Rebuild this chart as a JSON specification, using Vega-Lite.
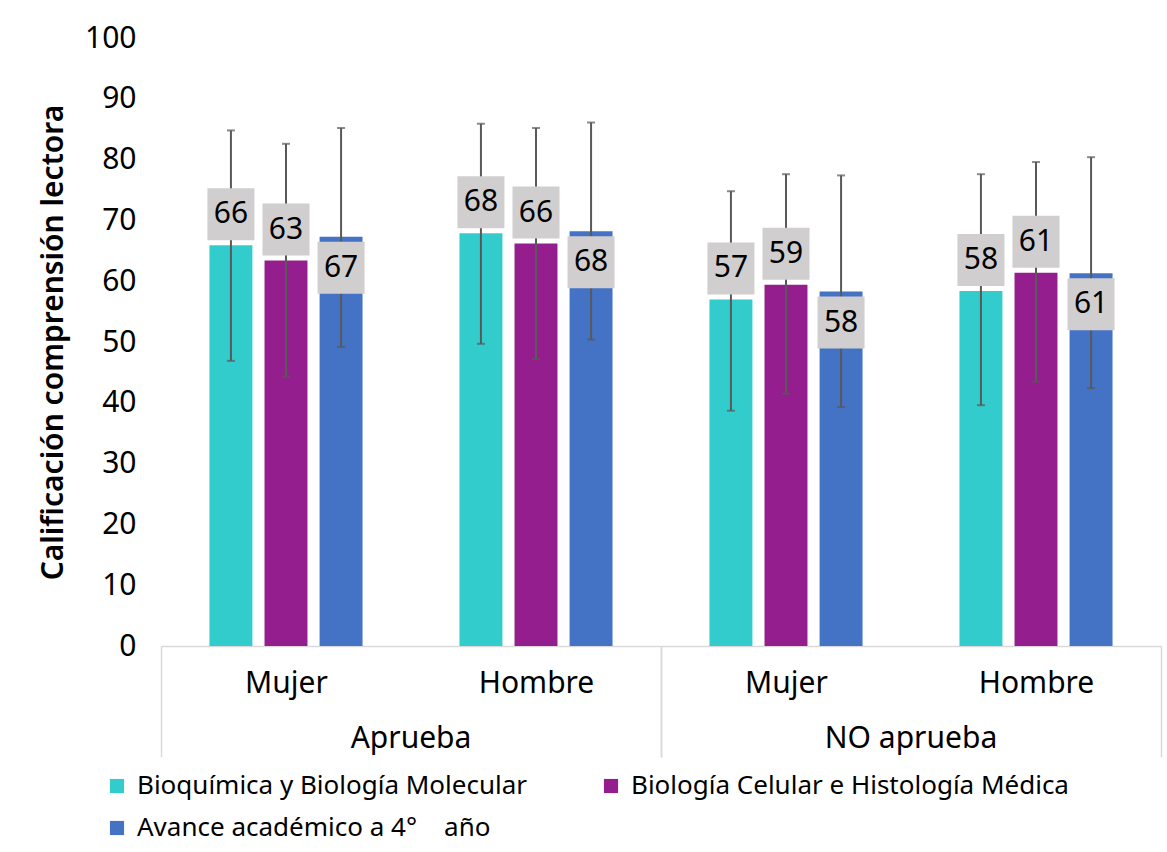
{
  "$schema": "https://vega.github.io/schema/vega-lite/v6.json",
  "background": "white",
  "autosize": {"type": "pad"},
  "padding": {"left": 38, "top": 23, "right": 5, "bottom": 5},
  "data": {
    "values": [
      {"grupo": "Aprueba", "sexo": "Mujer", "serie": "Bioquímica y Biología Molecular", "media": 65.9, "inferior": 46.9, "superior": 84.8},
      {"grupo": "Aprueba", "sexo": "Mujer", "serie": "Biología Celular e Histología Médica", "media": 63.4, "inferior": 44.3, "superior": 82.6},
      {"grupo": "Aprueba", "sexo": "Mujer", "serie": "Avance académico a 4°\u00a0\u00a0\u00a0\u00a0año", "media": 67.3, "inferior": 49.2, "superior": 85.2},
      {"grupo": "Aprueba", "sexo": "Hombre", "serie": "Bioquímica y Biología Molecular", "media": 67.9, "inferior": 49.7, "superior": 85.9},
      {"grupo": "Aprueba", "sexo": "Hombre", "serie": "Biología Celular e Histología Médica", "media": 66.2, "inferior": 47.2, "superior": 85.2},
      {"grupo": "Aprueba", "sexo": "Hombre", "serie": "Avance académico a 4°\u00a0\u00a0\u00a0\u00a0año", "media": 68.2, "inferior": 50.4, "superior": 86.1},
      {"grupo": "NO aprueba", "sexo": "Mujer", "serie": "Bioquímica y Biología Molecular", "media": 57.0, "inferior": 38.7, "superior": 74.8},
      {"grupo": "NO aprueba", "sexo": "Mujer", "serie": "Biología Celular e Histología Médica", "media": 59.4, "inferior": 41.5, "superior": 77.6},
      {"grupo": "NO aprueba", "sexo": "Mujer", "serie": "Avance académico a 4°\u00a0\u00a0\u00a0\u00a0año", "media": 58.3, "inferior": 39.3, "superior": 77.4},
      {"grupo": "NO aprueba", "sexo": "Hombre", "serie": "Bioquímica y Biología Molecular", "media": 58.4, "inferior": 39.6, "superior": 77.6},
      {"grupo": "NO aprueba", "sexo": "Hombre", "serie": "Biología Celular e Histología Médica", "media": 61.4, "inferior": 43.5, "superior": 79.6},
      {"grupo": "NO aprueba", "sexo": "Hombre", "serie": "Avance académico a 4°\u00a0\u00a0\u00a0\u00a0año", "media": 61.3, "inferior": 42.4, "superior": 80.4}
    ]
  },
  "facet": {
    "column": {
      "field": "grupo", "type": "nominal", "sort": ["Aprueba", "NO aprueba"],
      "header": {"title": null, "labelOrient": "bottom", "labelFontSize": 30, "labelFont": "Noto Sans", "labelColor": "#000000", "labelPadding": -34}
    }
  },
  "spacing": 0,
  "spec": {
    "width": 500,
    "height": 608,
    "encoding": {
      "x": {
        "field": "sexo", "type": "nominal", "sort": ["Mujer", "Hombre"],
        "scale": {"paddingInner": 0, "paddingOuter": 0},
        "axis": {
          "title": null, "labelAngle": 0, "labelFontSize": 30, "labelFont": "Noto Sans", "labelColor": "#000000",
          "domainColor": "#d9d9d9", "domainWidth": 1.5,
          "tickBand": "extent", "tickSize": 111, "tickColor": "#d9d9d9", "tickWidth": 1.5,
          "tickOpacity": {"condition": {"test": "datum.value === 'Mujer'", "value": 0}, "value": 1},
          "labelPadding": -89
        }
      },
      "xOffset": {
        "field": "serie", "type": "nominal",
        "sort": ["Bioquímica y Biología Molecular", "Biología Celular e Histología Médica", "Avance académico a 4°\u00a0\u00a0\u00a0\u00a0año"],
        "scale": {"paddingInner": 0.22, "paddingOuter": 0.88}
      }
    },
    "layer": [
      {
        "mark": {"type": "bar"},
        "encoding": {
          "y": {
            "field": "media", "type": "quantitative",
            "scale": {"domain": [0, 100]},
            "axis": {
              "title": "Calificación comprensión lectora", "values": [0, 10, 20, 30, 40, 50, 60, 70, 80, 90, 100],
              "grid": false, "domain": false, "ticks": false,
              "labelFontSize": 30, "labelFont": "Noto Sans", "labelColor": "#000000", "labelPadding": 25,
              "titleFontSize": 30, "titleFont": "Noto Sans", "titleFontWeight": 600, "titleColor": "#000000", "titlePadding": 16
            }
          },
          "color": {
            "field": "serie", "type": "nominal",
            "scale": {
              "domain": ["Bioquímica y Biología Molecular", "Biología Celular e Histología Médica", "Avance académico a 4°\u00a0\u00a0\u00a0\u00a0año"],
              "range": ["#33CCCC", "#951E8E", "#4472C4"]
            },
            "legend": {
              "title": null, "orient": "none", "legendX": -57, "legendY": 735, "direction": "horizontal", "columns": 2,
              "symbolType": "square", "symbolSize": 200, "symbolStrokeWidth": 0,
              "labelFontSize": 26, "labelFont": "Noto Sans", "labelColor": "#000000", "labelLimit": 700, "labelOffset": 7,
              "columnPadding": 70, "rowPadding": 16, "symbolOffset": 0
            }
          }
        }
      },
      {
        "mark": {"type": "rule", "color": "#595959", "strokeWidth": 2},
        "encoding": {
          "y": {"field": "inferior", "type": "quantitative"},
          "y2": {"field": "superior"}
        }
      },
      {
        "mark": {"type": "tick", "color": "#595959", "size": 8, "thickness": 2},
        "encoding": {"y": {"field": "superior", "type": "quantitative"}}
      },
      {
        "mark": {"type": "tick", "color": "#595959", "size": 8, "thickness": 2},
        "encoding": {"y": {"field": "inferior", "type": "quantitative"}}
      },
      {
        "transform": [{"filter": "indexof(datum.serie, 'Avance') !== 0"}],
        "mark": {"type": "bar", "color": "#D0CECE", "width": 47, "yOffset": -57, "y2Offset": -5},
        "encoding": {
          "y": {"field": "media", "type": "quantitative"},
          "y2": {"field": "media"}
        }
      },
      {
        "transform": [{"filter": "indexof(datum.serie, 'Avance') === 0"}],
        "mark": {"type": "bar", "color": "#D0CECE", "width": 47, "yOffset": 5, "y2Offset": 57},
        "encoding": {
          "y": {"field": "media", "type": "quantitative"},
          "y2": {"field": "media"}
        }
      },
      {
        "transform": [{"filter": "indexof(datum.serie, 'Avance') !== 0"}],
        "mark": {"type": "text", "dy": -31, "baseline": "middle", "fontSize": 30, "font": "Noto Sans", "color": "#000000"},
        "encoding": {
          "y": {"field": "media", "type": "quantitative"},
          "text": {"field": "media", "type": "quantitative", "format": ".0f"}
        }
      },
      {
        "transform": [{"filter": "indexof(datum.serie, 'Avance') === 0"}],
        "mark": {"type": "text", "dy": 31, "baseline": "middle", "fontSize": 30, "font": "Noto Sans", "color": "#000000"},
        "encoding": {
          "y": {"field": "media", "type": "quantitative"},
          "text": {"field": "media", "type": "quantitative", "format": ".0f"}
        }
      }
    ]
  },
  "config": {
    "view": {"stroke": null}
  }
}
